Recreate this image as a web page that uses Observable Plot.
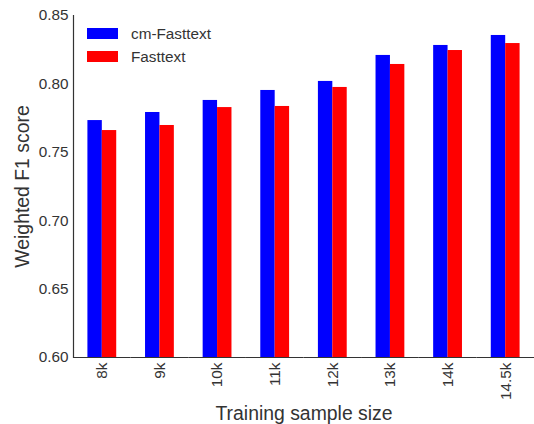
<!DOCTYPE html>
<html>
<head>
<meta charset="utf-8">
<script src="https://cdn.jsdelivr.net/npm/d3@7"></script>
<script src="https://cdn.jsdelivr.net/npm/@observablehq/plot@0.6"></script>
<style>
  body { margin: 0; background: white; }
  #chart svg { font-family: "Liberation Sans", Arial, sans-serif; }
  #chart g[aria-label="y-axis label"], #chart g[aria-label="fx-axis label"] { font-size: 19.4px; }
</style>
</head>
<body>
<div id="chart"></div>
<script>
const categories = ["8k", "9k", "10k", "11k", "12k", "13k", "14k", "14.5k"];
const series = ["cm-Fasttext", "Fasttext"];
const seriesColors = ["#0000ff", "#ff0000"];
const cmFasttext = [0.7732, 0.7791, 0.7879, 0.7952, 0.8018, 0.8208, 0.8281, 0.8354];
const fasttext   = [0.7659, 0.7696, 0.7827, 0.7835, 0.7974, 0.8142, 0.8244, 0.8295];
const yTicks = [0.60, 0.65, 0.70, 0.75, 0.80, 0.85];

const data = [];
categories.forEach((c, i) => {
  data.push({size: c, model: series[0], value: cmFasttext[i]});
  data.push({size: c, model: series[1], value: fasttext[i]});
});

const chart = Plot.plot({
  width: 534,
  height: 424,
  marginLeft: 73,
  marginRight: 0,
  marginTop: 15,
  marginBottom: 67,
  style: {background: "white", color: "#333", fontSize: "15.3px"},
  fx: {domain: categories, padding: 0, round: false},
  x: {domain: series, paddingInner: 0, paddingOuter: 1, round: false, axis: null},
  y: {domain: [0.6, 0.85]},
  color: {domain: series, range: seriesColors},
  marks: [
    Plot.barY(data, {fx: "size", x: "model", y: "value", fill: "model", clip: true}),
    Plot.ruleY([0.6], {stroke: "#333", strokeWidth: 1.2}),
    Plot.frame({anchor: "left", facetAnchor: "left", stroke: "#333", strokeWidth: 1.2}),
    Plot.axisY({ticks: yTicks, tickFormat: ".2f", tickSize: 0, tickPadding: 5,
      fontSize: 15.3, fill: "#333",
      label: "Weighted F1 score", labelAnchor: "center", labelArrow: "none", labelOffset: 58}),
    Plot.axisFx({anchor: "bottom", tickSize: 0, tickPadding: 5, tickRotate: -90,
      fontSize: 15.3, fill: "#333",
      label: "Training sample size", labelAnchor: "center", labelArrow: "none", labelOffset: 62})
  ]
});
document.getElementById("chart").append(chart);

// legend inside the plot area (upper left)
const svg = d3.select(chart);
const lg = svg.append("g").attr("font-size", "15.3px").attr("fill", "#333").attr("text-anchor", "start");
series.forEach((s, i) => {
  const y0 = 28 + i * 23;
  lg.append("rect").attr("x", 87).attr("y", y0).attr("width", 31).attr("height", 11).attr("fill", seriesColors[i]);
  lg.append("text").attr("x", 131).attr("y", y0 + 5.5).attr("dy", "0.35em").text(s);
});
</script>
</body>
</html>
